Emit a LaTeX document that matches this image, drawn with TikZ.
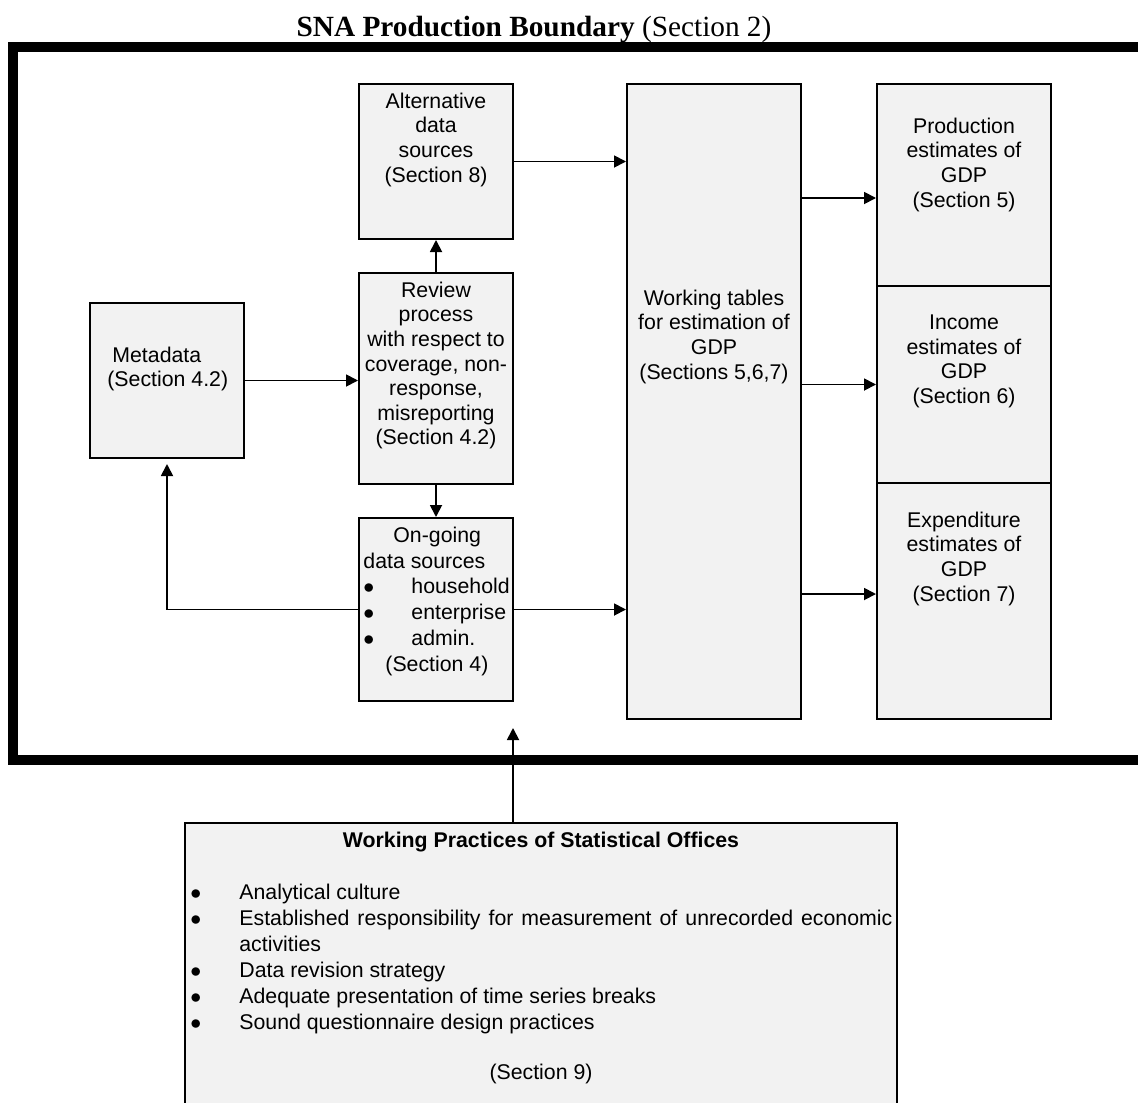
\documentclass[tikz,border=0pt]{standalone}
\usepackage{fontspec}
\setmainfont{Liberation Serif}
\setsansfont{Liberation Sans}
\usetikzlibrary{arrows.meta}

\definecolor{boxfill}{HTML}{F2F2F2}
\newcommand{\boxfont}{\sffamily\fontsize{10.65}{12.3}\selectfont}
\newcommand{\itemdot}[1]{\makebox[#1][l]{$\bullet$}}

\tikzset{
  box/.style={draw, line width=1pt, fill=boxfill, inner sep=0pt},
  boxtext/.style={font=\boxfont, align=center, anchor=north, inner sep=0pt},
  flow/.style={line width=0.9pt, -{Triangle[length=6pt, width=6pt]}},
  boundary/.style={line width=5pt}
}

\begin{document}
\begin{tikzpicture}[x=0.5pt, y=-0.5pt]
      \path[use as bounding box, clip] (0,0) rectangle (1138,1102);

      % Production boundary
      \draw[boundary] (13,47) rectangle (1170,760);
      \node[anchor=base, inner sep=0pt, font=\fontsize{14.65}{17}\selectfont] (title) at (534,37)
        {\textbf{SNA Production Boundary} (Section 2)};

      % Boxes
      \node[box, minimum width=77pt, minimum height=77.5pt] (meta) at (167,380.5) {};
      \node[box, minimum width=77pt, minimum height=77.5pt] (alt) at (436,161.5) {};
      \node[box, minimum width=77pt, minimum height=105.5pt] (rev) at (436,378.5) {};
      \node[box, minimum width=77pt, minimum height=91.5pt] (ong) at (436,609.5) {};
      \node[box, minimum width=87pt, minimum height=317.5pt] (work) at (714,401.5) {};
      \node[box, minimum width=87pt, minimum height=101pt] (prod) at (964,185) {};
      \node[box, minimum width=87pt, minimum height=98.5pt] (inc) at (964,384.5) {};
      \node[box, minimum width=87pt, minimum height=118pt] (exp) at (964,601) {};
      \node[box, minimum width=356pt, minimum height=150pt, anchor=north] (wp) at (541,822) {};

      % Texts
      \node[boxtext, align=left, anchor=north west] (metatext) at (107,346.5)
        {\hspace*{2.5pt}Metadata\\(Section 4.2)};
      \node[boxtext] (alttext) at (436,92.5) {Alternative\\data\\sources\\(Section 8)};
      \node[boxtext] (revtext) at (436,281.5)
        {Review\\process\\with respect to\\coverage, non-\\response,\\misreporting\\(Section 4.2)};
      \node[boxtext, align=left, anchor=north west, font=\sffamily\fontsize{10.65}{12.9}\selectfont] (ongtext) at (363,526.5)
        {\hspace*{15pt}On-going\\data sources\\
         \itemdot{24pt}household\\
         \itemdot{24pt}enterprise\\
         \itemdot{24pt}admin.\\
         \hspace*{11pt}(Section 4)};
      \node[boxtext] (worktext) at (714,289.5) {Working tables\\for estimation of\\GDP\\(Sections 5,6,7)};
      \node[boxtext] (prodtext) at (964,117.5) {Production\\estimates of\\GDP\\(Section 5)};
      \node[boxtext] (inctext) at (964,314.5) {Income\\estimates of\\GDP\\(Section 6)};
      \node[boxtext] (exptext) at (964,511.5) {Expenditure\\estimates of\\GDP\\(Section 7)};
      \node[boxtext, font=\boxfont\bfseries] (wptitle) at (541,831.5) {Working Practices of Statistical Offices};
      \node[boxtext, align=left, anchor=north west, font=\sffamily\fontsize{10.65}{13}\selectfont] (wplist) at (190,883.5)
        {\itemdot{24.5pt}Analytical culture\\
         \itemdot{24.5pt}\makebox[326.5pt][s]{Established responsibility for measurement of unrecorded economic}\\
         \hspace*{24.5pt}activities\\
         \itemdot{24.5pt}Data revision strategy\\
         \itemdot{24.5pt}Adequate presentation of time series breaks\\
         \itemdot{24.5pt}Sound questionnaire design practices};
      \node[boxtext] (wpsection) at (541,1063.5) {(Section 9)};

      % Arrows
      \coordinate (prodin) at ([yshift=-6.5pt]prod.west);
      \coordinate (expin) at ([yshift=3.5pt]exp.west);
      \coordinate (wpin) at (513,728);
      \draw[flow] (alt.east) -- (alt.east -| work.west);
      \draw[flow] (meta.east) -- (meta.east -| rev.west);
      \draw[flow] (rev.north) -- (alt.south);
      \draw[flow] (rev.south) -- (ong.north);
      \draw[flow] (ong.east) -- (ong.east -| work.west);
      \draw[flow, shorten >=2.5pt] (ong.west) -| (meta.south);
      \draw[flow] (work.east |- prodin) -- (prodin);
      \draw[flow] (work.east |- inc.west) -- (inc.west);
      \draw[flow] (work.east |- expin) -- (expin);
      \draw[flow] (wp.north -| wpin) -- (wpin);
\end{tikzpicture}
\end{document}
